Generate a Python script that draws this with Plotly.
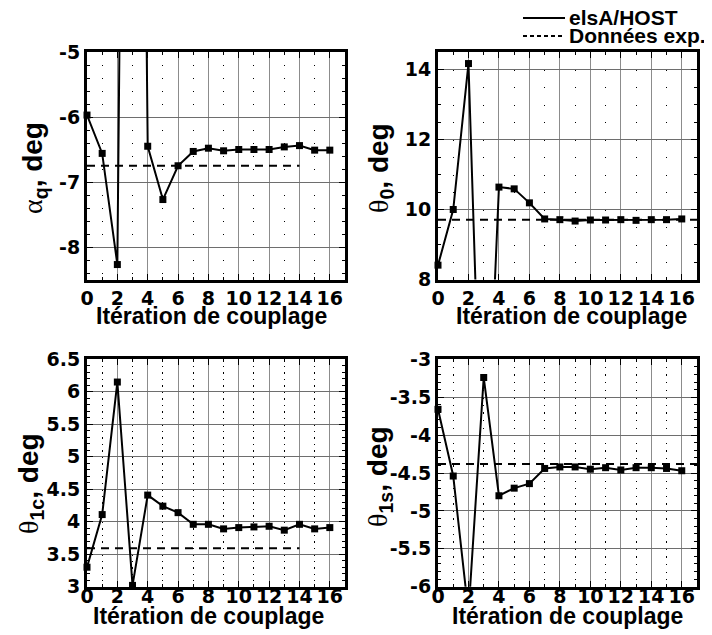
import numpy as np
import plotly.graph_objects as go

# ---------------- data ----------------
iterations = list(range(17))
alpha_q = [-5.97, -6.56, -8.27, 16.0, -6.45, -7.27, -6.75, -6.53, -6.48, -6.52,
           -6.50, -6.50, -6.50, -6.46, -6.44, -6.51, -6.51]
theta_0 = [8.41, 10.0, 14.17, 0.5, 10.64, 10.59, 10.19, 9.73, 9.71, 9.67,
           9.70, 9.70, 9.71, 9.69, 9.71, 9.71, 9.73]
theta_1c = [3.30, 4.11, 6.15, 3.02, 4.41, 4.24, 4.14, 3.96, 3.96, 3.89,
            3.91, 3.92, 3.93, 3.87, 3.96, 3.89, 3.91]
theta_1s = [-3.66, -4.54, -6.35, -3.24, -4.80, -4.70, -4.64, -4.44, -4.42, -4.42,
            -4.45, -4.43, -4.46, -4.43, -4.43, -4.44, -4.47]

exp_x_left = [0, 14]
exp_x_right = [0, 17]
exp_alpha_q = [-6.75, -6.75]
exp_theta_0 = [9.71, 9.71]
exp_theta_1c = [3.59, 3.59]
exp_theta_1s = [-4.38, -4.38]

x_tick_vals = [0, 2, 4, 6, 8, 10, 12, 14, 16]
x_tick_text = ["0", "2", "4", "6", "8", "10", "12", "14", "16"]

y_ticks_alpha = [-8, -7, -6, -5]
y_text_alpha = ["-8", "-7", "-6", "-5"]
y_ticks_t0 = [8, 10, 12, 14]
y_text_t0 = ["8", "10", "12", "14"]
y_ticks_t1c = [3, 3.5, 4, 4.5, 5, 5.5, 6, 6.5]
y_text_t1c = ["3", "3.5", "4", "4.5", "5", "5.5", "6", "6.5"]
y_ticks_t1s = [-6, -5.5, -5, -4.5, -4, -3.5, -3]
y_text_t1s = ["-6", "-5.5", "-5", "-4.5", "-4", "-3.5", "-3"]

x_title = "Itération de couplage"
legend_names = ["elsA/HOST", "Données exp."]

# ---------------- layout geometry ----------------
W, H = 712, 635
OFF = 8  # page body margin of the viewer


def fx(px):
    return (px - OFF) / W


def fy(py):
    return 1 - (py - OFF) / H


SERIF = "<span style='font-family:Liberation Serif;font-weight:normal'>%s</span>"

panels = [
    dict(y=alpha_q, ex=exp_x_left, ey=exp_alpha_q, yr=[-8.5, -5], minor=0.2,
         tv=y_ticks_alpha, tt=y_text_alpha,
         px=(87, 345), py=(52, 279.5), standoff=0,
         ytitle=SERIF % "α" + "<sub>q</sub>, deg", ytpos=(34, 168), xtpos=(212, 316)),
    dict(y=theta_0, ex=exp_x_right, ey=exp_theta_0, yr=[8, 14.5], minor=0.5,
         tv=y_ticks_t0, tt=y_text_t0,
         px=(438, 697), py=(52, 279.5), standoff=0,
         ytitle=SERIF % "θ" + "<sub>0</sub>, deg", ytpos=(380, 168), xtpos=(571, 316)),
    dict(y=theta_1c, ex=exp_x_left, ey=exp_theta_1c, yr=[3, 6.5], minor=0.1,
         tv=y_ticks_t1c, tt=y_text_t1c,
         px=(87, 345), py=(359.3, 586.7), standoff=-10,
         ytitle=SERIF % "θ" + "<sub>1c</sub>, deg", ytpos=(30, 484), xtpos=(208, 615.5)),
    dict(y=theta_1s, ex=exp_x_right, ey=exp_theta_1s, yr=[-6, -3], minor=0.1,
         tv=y_ticks_t1s, tt=y_text_t1s,
         px=(438, 697), py=(359.3, 586.7), standoff=-10,
         ytitle=SERIF % "θ" + "<sub>1s</sub>, deg", ytpos=(379, 477), xtpos=(567, 615.5)),
]

TICKFONT = dict(family="DejaVu Sans", size=19, color="black", weight="bold")
TITLEFONT = dict(family="Liberation Sans", size=23, color="black", weight="bold")

fig = go.Figure()
annotations = []
shapes = []

for i, p in enumerate(panels):
    k = "" if i == 0 else str(i + 1)
    xa, ya = "x" + k, "y" + k
    x_arr = np.array(iterations)
    y_arr = np.array(p["y"], dtype=float)

    # experimental reference (dashed)
    fig.add_trace(go.Scatter(x=p["ex"], y=p["ey"], mode="lines", xaxis=xa, yaxis=ya,
                             line=dict(color="black", width=2, dash="8px,6px"),
                             showlegend=False, hoverinfo="skip"))
    # coupled computation line
    fig.add_trace(go.Scatter(x=x_arr, y=y_arr, mode="lines", xaxis=xa, yaxis=ya,
                             line=dict(color="black", width=2),
                             showlegend=False))
    # markers (only those within the visible range)
    mask = (y_arr >= p["yr"][0]) & (y_arr <= p["yr"][1])
    fig.add_trace(go.Scatter(x=x_arr[mask], y=y_arr[mask], mode="markers", xaxis=xa, yaxis=ya,
                             marker=dict(symbol="square", size=7, color="black"),
                             cliponaxis=False, showlegend=False))

    height_px = p["py"][1] - p["py"][0]
    period = height_px / (p["yr"][1] - p["yr"][0]) * p["minor"]
    dotdash = "1.3px,%.3fpx" % (period - 1.3)

    xdom = [fx(p["px"][0]), fx(p["px"][1])]
    ydom = [fy(p["py"][1]), fy(p["py"][0])]

    fig.layout["xaxis" + k] = dict(
        domain=xdom, range=[0, 17], anchor=ya, automargin=False,
        tickvals=x_tick_vals, ticktext=x_tick_text, tickfont=TICKFONT,
        ticks="inside", ticklen=6, tickwidth=1, tickcolor="black",
        showline=True, linewidth=3, linecolor="black", mirror="allticks",
        showgrid=True, gridcolor="#8c8c8c", gridwidth=1,
        zeroline=False, layer="below traces", ticklabelstandoff=p["standoff"],
        minor=dict(dtick=1, tick0=1, ticks="inside", ticklen=3, tickcolor="black",
                   showgrid=True, gridcolor="black", gridwidth=1.3, griddash=dotdash),
    )
    fig.layout["yaxis" + k] = dict(
        domain=ydom, range=p["yr"], anchor=xa, automargin=False,
        tickvals=p["tv"], ticktext=p["tt"], tickfont=TICKFONT,
        ticks="inside", ticklen=6, tickwidth=1, tickcolor="black",
        showline=True, linewidth=3, linecolor="black", mirror="allticks",
        showgrid=True, gridcolor="#6e6e6e", gridwidth=1,
        zeroline=False, layer="below traces",
        minor=dict(dtick=p["minor"], tick0=0, ticks="inside", ticklen=3,
                   tickcolor="black", showgrid=False),
    )

    annotations.append(dict(text=p["ytitle"], textangle=-90, showarrow=False,
                            xref="paper", yref="paper",
                            x=fx(p["ytpos"][0]), y=fy(p["ytpos"][1]),
                            xanchor="center", yanchor="middle",
                            font=dict(family="Liberation Sans", size=28, color="black",
                                      weight="bold")))
    annotations.append(dict(text=x_title, showarrow=False, xref="paper", yref="paper",
                            x=fx(p["xtpos"][0]), y=fy(p["xtpos"][1]),
                            xanchor="center", yanchor="middle", font=TITLEFONT))

# legend (drawn as annotation + sample lines)
leg_font = dict(family="Liberation Sans", size=21, color="black", weight="bold")
for j, (name, dash, ypx) in enumerate([(legend_names[0], "solid", 18),
                                        (legend_names[1], "4px,3px", 36)]):
    shapes.append(dict(type="line", xref="paper", yref="paper",
                       x0=fx(523), x1=fx(565), y0=fy(ypx), y1=fy(ypx),
                       line=dict(color="black", width=2, dash=dash)))
    annotations.append(dict(text=name, showarrow=False, xref="paper", yref="paper",
                            x=fx(567), y=fy(ypx - 1), xanchor="left",
                            yanchor="middle", font=leg_font))

fig.update_layout(
    width=W, height=H, margin=dict(l=0, r=0, t=0, b=0, autoexpand=False),
    paper_bgcolor="white", plot_bgcolor="white",
    showlegend=False, annotations=annotations, shapes=shapes,
)

fig.write_html("out.html")
